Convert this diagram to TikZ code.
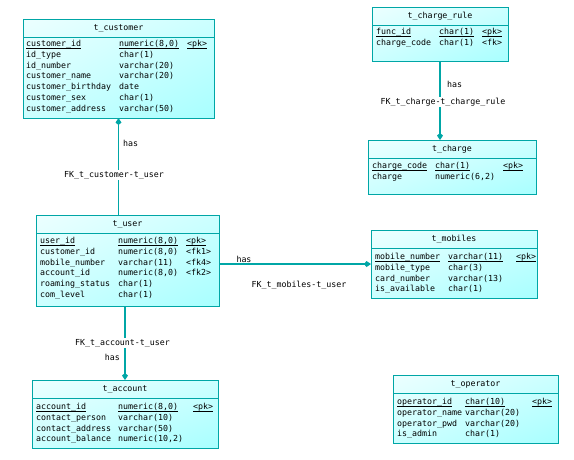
\documentclass[tikz,border=0pt]{standalone}
\usepackage{fontspec}
\setmainfont{DejaVu Sans Mono}
\usetikzlibrary{arrows.meta,shadings}

\definecolor{erline}{RGB}{0,166,166}
\definecolor{erlight}{RGB}{236,255,255}
\definecolor{ermid}{RGB}{204,255,255}
\definecolor{erdark}{RGB}{168,255,255}

% underline kept close to the baseline
\newcommand{\pk}[1]{{\setbox0\hbox{#1}\rlap{\rule[-2pt]{\wd0}{0.6pt}}\box0}}
% one row per entry: name/type/key
\newcommand{\fields}[6]{%
  \foreach \fname/\ftype/\fkey [count=\i from 0] in {#6} {
    \node[fld] (#1n\i) at (#2,{#5+2.8+\i*10.7}) {\fname};
    \node[fld] (#1t\i) at (#3,{#5+2.8+\i*10.7}) {\ftype};
    \node[fld] (#1k\i) at (#4,{#5+2.8+\i*10.7}) {\fkey};
  }}

\tikzset{
  erfont/.style={font=\fontsize{8.3}{9}\selectfont},
  tbl/.style={draw=erline, line width=1pt, inner sep=0pt, outer sep=0pt,
    anchor=north west, upper left=erlight, upper right=ermid,
    lower left=ermid, lower right=erdark},
  ttl/.style={erfont, inner sep=0pt},
  fld/.style={erfont, anchor=base west, inner sep=0pt},
  sepline/.style={draw=erline, line width=0.8pt},
  rel/.style={draw=erline, line width=1.2pt},
  reltip/.style={rel, -{Kite[length=7pt,width=6pt,inset=2.5pt]}},
  lbl/.style={erfont, fill=white, inner sep=1pt}
}

\begin{document}
\begin{tikzpicture}[x=1pt, y=-1pt]
  \useasboundingbox (0,0) rectangle (574,459);

  % Draw tables
  \node[tbl, minimum width=191pt, minimum height=99pt] (customer) at (23,19) {};
  \node[ttl] (customer-t) at ([yshift=-9.5pt]customer.north) {t\_customer};
  \draw[sepline] ([yshift=-18pt]customer.north west) -- ([yshift=-18pt]customer.north east);
  \fields{cu}{26}{119}{187}{44}{\pk{customer\_id}/\pk{numeric(8,0)}/\pk{<pk>},
    id\_type/char(1)/{}, id\_number/varchar(20)/{}, customer\_name/varchar(20)/{},
    customer\_birthday/date/{}, customer\_sex/char(1)/{}, customer\_address/varchar(50)/{}}

  \node[tbl, minimum width=136pt, minimum height=54pt] (rule) at (372,7) {};
  \node[ttl] (rule-t) at ([yshift=-9.5pt]rule.north) {t\_charge\_rule};
  \draw[sepline] ([yshift=-18pt]rule.north west) -- ([yshift=-18pt]rule.north east);
  \fields{cr}{376}{439}{482}{32}{\pk{func\_id}/\pk{char(1)}/\pk{<pk>},
    charge\_code/char(1)/<fk>}

  \node[tbl, minimum width=168pt, minimum height=54pt] (charge) at (368,140) {};
  \node[ttl] (charge-t) at ([yshift=-9.5pt]charge.north) {t\_charge};
  \draw[sepline] ([yshift=-18pt]charge.north west) -- ([yshift=-18pt]charge.north east);
  \fields{ch}{372}{435}{503}{166}{\pk{charge\_code}/\pk{char(1)}/\pk{<pk>},
    charge/{numeric(6,2)}/{}}

  \node[tbl, minimum width=183pt, minimum height=91pt] (user) at (36,215) {};
  \node[ttl] (user-t) at ([yshift=-9.5pt]user.north) {t\_user};
  \draw[sepline] ([yshift=-18pt]user.north west) -- ([yshift=-18pt]user.north east);
  \fields{us}{40}{118}{186}{241}{\pk{user\_id}/\pk{numeric(8,0)}/\pk{<pk>},
    customer\_id/{numeric(8,0)}/<fk1>, mobile\_number/varchar(11)/<fk4>,
    account\_id/{numeric(8,0)}/<fk2>, roaming\_status/char(1)/{}, com\_level/char(1)/{}}

  \node[tbl, minimum width=166pt, minimum height=68pt] (mobiles) at (371,230) {};
  \node[ttl] (mobiles-t) at ([yshift=-9.5pt]mobiles.north) {t\_mobiles};
  \draw[sepline] ([yshift=-18pt]mobiles.north west) -- ([yshift=-18pt]mobiles.north east);
  \fields{mo}{375}{448}{516}{257}{\pk{mobile\_number}/\pk{varchar(11)}/\pk{<pk>},
    mobile\_type/char(3)/{}, card\_number/varchar(13)/{}, is\_available/char(1)/{}}

  \node[tbl, minimum width=186pt, minimum height=68pt] (account) at (32,380) {};
  \node[ttl] (account-t) at ([yshift=-9.5pt]account.north) {t\_account};
  \draw[sepline] ([yshift=-18pt]account.north west) -- ([yshift=-18pt]account.north east);
  \fields{ac}{36}{118}{193}{407}{\pk{account\_id}/\pk{numeric(8,0)}/\pk{<pk>},
    contact\_person/varchar(10)/{}, contact\_address/varchar(50)/{},
    account\_balance/{numeric(10,2)}/{}}

  \node[tbl, minimum width=165pt, minimum height=68pt] (operator) at (393,375) {};
  \node[ttl] (operator-t) at ([yshift=-9.5pt]operator.north) {t\_operator};
  \draw[sepline] ([yshift=-18pt]operator.north west) -- ([yshift=-18pt]operator.north east);
  \fields{op}{397}{465}{532}{402}{\pk{operator\_id}/\pk{char(10)}/\pk{<pk>},
    operator\_name/varchar(20)/{}, operator\_pwd/varchar(20)/{}, is\_admin/char(1)/{}}

  % Draw references
  \draw[reltip] (user.north -| customer.south) -- (customer.south);
  \draw[reltip] (user.south -| account.north) -- (account.north);
  \draw[reltip] (user.east |- mobiles.west) -- (mobiles.west);
  \draw[reltip] (rule.south) -- (charge.north -| rule.south);

  \node[lbl] (fkcu) at (114,175) {FK\_t\_customer-t\_user};
  \node[lbl, anchor=west] (hascu) at (122,143) {has};
  \node[lbl] (fkac) at (122.5,343) {FK\_t\_account-t\_user};
  \node[lbl, anchor=east] (hasac) at (121,357) {has};
  \node[lbl] (fkmo) at (299,285) {FK\_t\_mobiles-t\_user};
  \node[lbl] (hasmo) at (244,259) {has};
  \node[lbl] (fkch) at (443,102) {FK\_t\_charge-t\_charge\_rule};
  \node[lbl, anchor=west] (hasch) at (446,84) {has};
\end{tikzpicture}
\end{document}
